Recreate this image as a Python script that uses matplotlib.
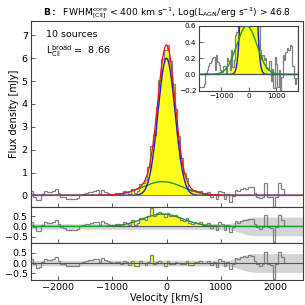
import numpy as np
import matplotlib
matplotlib.use("Agg")
import matplotlib.pyplot as plt

# ---------------- data ----------------
bin_edges = np.arange(-2500, 2151, 50)
flux = [0.2, -0.05, -0.22, -0.2, 0.05, 0.2, 0.15, 0.15, 0.2, 0.3,
        0.12, -0.05, -0.07, -0.15, -0.16, -0.16, -0.15, -0.12, 0.02, 0.05,
        0.1, 0.14, 0.16, 0.2, 0.22, 0.05, 0.24, 0.15, 0.12, 0.06,
        0.03, 0.10, 0.11, 0.02, 0.20, 0.16, 0.06, 0.30, 0.09, 0.18,
        0.49, 0.53, 0.67, 1.23, 2.18, 2.64, 3.85, 5.06, 5.95, 6.37,
        6.58, 5.88, 4.86, 3.76, 2.61, 1.62, 0.99, 0.74, 0.30, 0.19,
        0.24, 0.18, 0.20, 0.08, 0.06, 0.16, -0.08, 0.07, -0.17, 0.21,
        0.13, -0.16, 0.05, -0.27, -0.03, 0.24, 0.18, 0.28, 0.33, 0.3,
        0.37, 0.35, 0.1, -0.05, -0.12, -0.05, 0.55, -0.05, -0.08, -0.75,
        -0.05, 0.55, 0.3]

# fitted Gaussian components (amplitude mJy, centre km/s, sigma km/s)
core_amp, core_mu, core_sig = 6.0, 0.0, 157.0
broad_amp, broad_mu, broad_sig = 0.6, -70.0, 370.0

# rms band nodes (velocity, half width)
rms_vel = [-2500, 1150, 1300, 1450, 1600, 2500]
rms_half = [0.13, 0.14, 0.25, 0.38, 0.45, 0.45]

line_window = (-700, 700)
n_sources = 10
l_broad = 8.66

# ---------------- helpers ----------------
flux = np.array(flux)
centres = 0.5 * (bin_edges[:-1] + bin_edges[1:])


def gauss(v, a, m, s):
    return a * np.exp(-(v - m) ** 2 / (2 * s ** 2))


vgrid = np.linspace(-2500, 2500, 1001)
core_g = gauss(vgrid, core_amp, core_mu, core_sig)
broad_g = gauss(vgrid, broad_amp, broad_mu, broad_sig)
total_g = core_g + broad_g

res1 = flux - gauss(centres, core_amp, core_mu, core_sig)
res2 = res1 - gauss(centres, broad_amp, broad_mu, broad_sig)

win = (bin_edges >= line_window[0]) & (bin_edges <= line_window[1])
idx = np.where(win)[0]
e_win = bin_edges[idx[0]:idx[-1] + 1]
sl = slice(idx[0], idx[-1])

SP = '#404040'
GRAY = '#808080'
YEL = '#ffff1a'
GREEN = '#1f9a1f'
BLUE = '#1c1cd0'
RED = '#e8141a'
ZERO = '#3d5f5a'
TS = 6.8

plt.rcParams['font.family'] = ['DejaVu Sans']

fig = plt.figure(figsize=(3.05, 3.05), dpi=100)
L, R = 0.100, 0.992
ax = fig.add_axes([L, 0.322, R - L, 0.931 - 0.322])
ax1 = fig.add_axes([L, 0.202, R - L, 0.120])
ax2 = fig.add_axes([L, 0.082, R - L, 0.120])


def style(a, fs=TS):
    for s in a.spines.values():
        s.set_color(SP)
        s.set_linewidth(0.8)
    a.tick_params(direction='in', length=3, width=0.6, colors=SP,
                  labelcolor='black', labelsize=fs, pad=2)


# main panel
ax.stairs(flux[sl], e_win, baseline=0, fill=True, color=YEL, lw=0, zorder=1)
ax.stairs(flux, bin_edges, baseline=0, color=GRAY, lw=0.9, zorder=2)
ax.plot(vgrid, broad_g, color=GREEN, lw=1.0, zorder=3)
ax.plot(vgrid, core_g, color=BLUE, lw=1.0, zorder=4)
ax.plot(vgrid, total_g, color=RED, lw=0.9, zorder=5)
ax.axhline(0, color='#9a4a44', lw=0.8, zorder=5.5, alpha=0.8)
ax.set_xlim(-2500, 2500)
ax.set_ylim(-0.5, 7.63)
ax.set_yticks(range(0, 8))
ax.set_xticks([-2000, -1000, 0, 1000, 2000])
ax.set_xticklabels([])
ax.set_ylabel('Flux density [mJy]', fontsize=7, labelpad=2)
style(ax)
ax.text(0.058, 0.925, f'{n_sources} sources', transform=ax.transAxes,
        fontsize=6.8, va='center', ha='left')
ax.text(0.058, 0.835, r'L$^{\rm broad}_{\rm CII}$ =  ' + f'{l_broad:.2f}',
        transform=ax.transAxes, fontsize=6.8, va='center', ha='left')
ax.set_title(r'$\mathbf{B:}$  FWHM$^{\rm core}_{\rm [CII]}$ < 400 km s$^{-1}$, '
             r'Log(L$_{\rm AGN}$/erg s$^{-1}$) > 46.8', fontsize=6.6, pad=4)

# residual panels
for a, res, curve in ((ax1, res1, broad_g), (ax2, res2, None)):
    a.fill_between(rms_vel, [-h for h in rms_half], rms_half,
                   color='#d4d4d4', lw=0, zorder=0)
    a.stairs(res[sl], e_win, baseline=0, fill=True, color=YEL, lw=0, zorder=1)
    a.stairs(res, bin_edges, baseline=0, color=GRAY, lw=0.9, zorder=2)
    if curve is not None:
        a.plot(vgrid, curve, color=GREEN, lw=1.0, zorder=3)
    a.axhline(0, color=ZERO, lw=0.8, zorder=2.5)
    a.set_xlim(-2500, 2500)
    a.set_ylim(-0.82, 0.95)
    a.set_yticks([-0.5, 0.0, 0.5])
    a.set_xticks([-2000, -1000, 0, 1000, 2000])
    style(a)
ax1.set_xticklabels([])
ax2.set_xlabel('Velocity [km/s]', fontsize=7, labelpad=1)

# inset
ins = fig.add_axes([0.653, 0.703, 0.325, 0.212])
ins.stairs(flux[sl], e_win, baseline=0, fill=True, color=YEL, lw=0, zorder=1)
ins.stairs(flux, bin_edges, baseline=0, color=GRAY, lw=0.9, zorder=2)
ins.plot(vgrid, core_g, color=BLUE, lw=1.0, zorder=3)
ins.plot(vgrid, broad_g, color=GREEN, lw=1.0, zorder=4)
ins.axhline(0, color=ZERO, lw=0.9, zorder=4.5)
ins.set_xlim(-1820, 1820)
ins.set_ylim(-0.2, 0.6)
ins.set_yticks([-0.2, 0.0, 0.2, 0.4, 0.6])
ins.set_xticks([-1000, 0, 1000])
style(ins, fs=5.2)

fig.savefig('out.png', dpi=100)
